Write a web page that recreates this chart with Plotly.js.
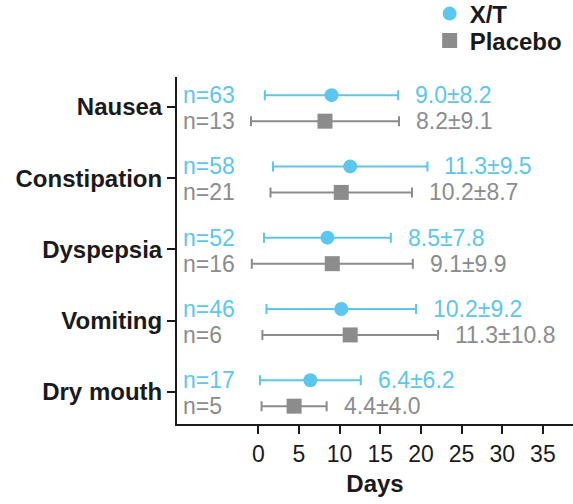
<!DOCTYPE html>
<html>
<head>
<meta charset="utf-8">
<script src="https://cdn.plot.ly/plotly-3.0.1.min.js"></script>
<style>html,body{margin:0;padding:0;background:#fff;}#chart{width:573px;height:504px;}</style>
</head>
<body>
<div id="chart"></div>
<script>
// ---- data ----
var categories = ['Nausea', 'Constipation', 'Dyspepsia', 'Vomiting', 'Dry mouth'];
var xtMean = [9.0, 11.3, 8.5, 10.2, 6.4];
var xtSD   = [8.2, 9.5, 7.8, 9.2, 6.2];
var xtN    = [63, 58, 52, 46, 17];
var plMean = [8.2, 10.2, 9.1, 11.3, 4.4];
var plSD   = [9.1, 8.7, 9.9, 10.8, 4.0];
var plN    = [13, 21, 16, 6, 5];
var xTicks = [0, 5, 10, 15, 20, 25, 30, 35];

// ---- styling ----
var BLUE = '#5cc6ee';
var GREY = '#8c8c8c';
var DARK = '#1a1a1a';
var FONT = 'Liberation Sans, Arial, sans-serif';
var xtOff = -0.165, plOff = 0.2;

var idx = categories.map(function (_, i) { return i; });
var yXT = idx.map(function (i) { return i + xtOff; });
var yPL = idx.map(function (i) { return i + plOff; });

var traces = [
  {
    type: 'scatter', mode: 'markers', name: 'X/T', legend: 'legend',
    x: xtMean, y: yXT,
    marker: {symbol: 'circle', size: 14, color: BLUE},
    error_x: {type: 'data', array: xtSD, visible: true, color: BLUE, thickness: 2, width: 5},
    hoverinfo: 'skip'
  },
  {
    type: 'scatter', mode: 'markers', name: 'Placebo', legend: 'legend2',
    x: plMean, y: yPL,
    marker: {symbol: 'square', size: 15, color: GREY},
    error_x: {type: 'data', array: plSD, visible: true, color: GREY, thickness: 2, width: 5},
    hoverinfo: 'skip'
  }
];

var annotations = [];
idx.forEach(function (i) {
  annotations.push({x: -9.45, y: yXT[i], xref: 'x', yref: 'y', text: 'n=' + xtN[i], showarrow: false,
    xanchor: 'left', yanchor: 'middle', font: {family: FONT, size: 23, color: BLUE}});
  annotations.push({x: -9.45, y: yPL[i], xref: 'x', yref: 'y', text: 'n=' + plN[i], showarrow: false,
    xanchor: 'left', yanchor: 'middle', font: {family: FONT, size: 23, color: GREY}});
  annotations.push({x: xtMean[i] + xtSD[i], y: yXT[i], xref: 'x', yref: 'y', xshift: 15,
    text: xtMean[i].toFixed(1) + '±' + xtSD[i].toFixed(1), showarrow: false,
    xanchor: 'left', yanchor: 'middle', font: {family: FONT, size: 23, color: BLUE}});
  annotations.push({x: plMean[i] + plSD[i], y: yPL[i], xref: 'x', yref: 'y', xshift: 15,
    text: plMean[i].toFixed(1) + '±' + plSD[i].toFixed(1), showarrow: false,
    xanchor: 'left', yanchor: 'middle', font: {family: FONT, size: 23, color: GREY}});
});

var legendBase = {
  xanchor: 'left', yanchor: 'middle',
  font: {family: FONT, size: 24, color: DARK, weight: 'bold'},
  bgcolor: 'rgba(0,0,0,0)', itemclick: false
};
function pyToPaper(py) { return (424 - py) / 347; }

var layout = {
  width: 573, height: 504,
  margin: {l: 177, r: 0, t: 77, b: 80, autoexpand: false},
  paper_bgcolor: '#ffffff', plot_bgcolor: '#ffffff',
  showlegend: true,
  legend: Object.assign({}, legendBase, {x: 0.638, y: pyToPaper(14)}),
  legend2: Object.assign({}, legendBase, {x: 0.638, y: pyToPaper(41)}),
  xaxis: {
    range: [-10, 38.7], tickvals: xTicks, ticktext: xTicks.map(String),
    showgrid: false, zeroline: false, showline: true, linecolor: DARK, linewidth: 2,
    ticks: 'outside', ticklen: 8, tickwidth: 2, tickcolor: DARK,
    tickfont: {family: FONT, size: 23, color: DARK},
    title: {text: 'Days', font: {family: FONT, size: 24, color: DARK, weight: 'bold'}, standoff: 10},
    fixedrange: true, automargin: false
  },
  yaxis: {
    range: [4.45, -0.42], tickvals: idx, ticktext: categories,
    showgrid: false, zeroline: false, showline: true, linecolor: DARK, linewidth: 2,
    ticks: 'outside', ticklen: 8, tickwidth: 2, tickcolor: DARK,
    tickfont: {family: FONT, size: 24, color: DARK, weight: 'bold'},
    fixedrange: true, automargin: false
  },
  annotations: annotations
};

Plotly.newPlot('chart', traces, layout, {displayModeBar: false, staticPlot: true});
</script>
</body>
</html>
